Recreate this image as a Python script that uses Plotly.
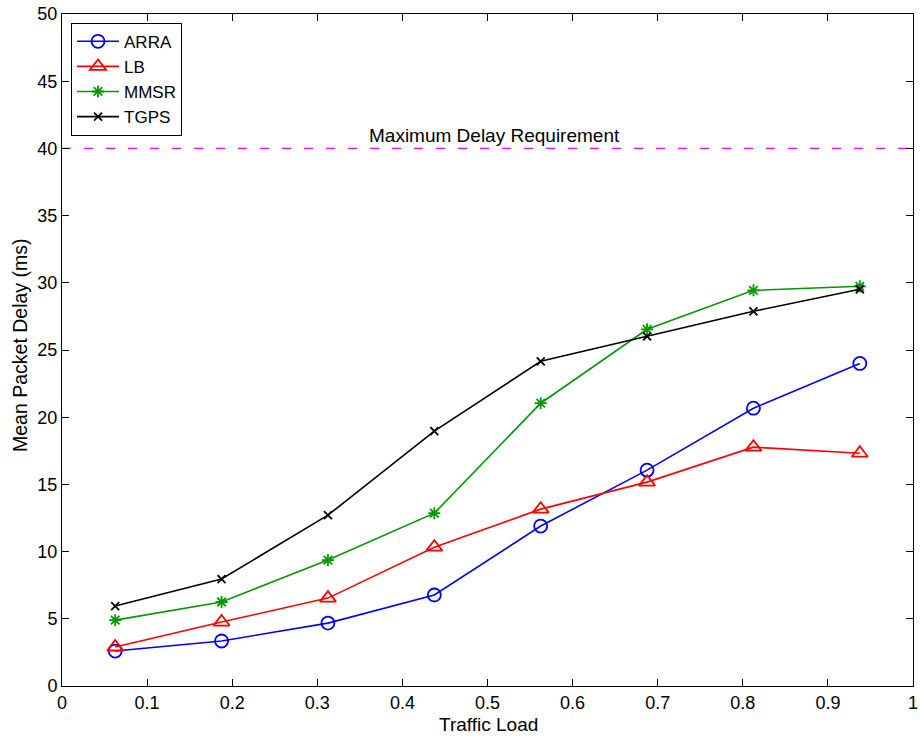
import plotly.graph_objects as go

traffic_load = [0.0625, 0.1875, 0.3125, 0.4375, 0.5625, 0.6875, 0.8125, 0.9375]
arra = [2.6, 3.35, 4.68, 6.77, 11.9, 16.06, 20.67, 24.0]
lb = [2.9, 4.76, 6.54, 10.33, 13.16, 15.17, 17.77, 17.32]
mmsr = [4.9, 6.25, 9.37, 12.86, 21.04, 26.54, 29.44, 29.74]
tgps = [5.95, 7.96, 12.71, 18.96, 24.16, 26.02, 27.88, 29.52]
max_delay = 40
x_ticks = [0, 0.1, 0.2, 0.3, 0.4, 0.5, 0.6, 0.7, 0.8, 0.9, 1]
x_tick_text = ["0", "0.1", "0.2", "0.3", "0.4", "0.5", "0.6", "0.7", "0.8", "0.9", "1"]
y_ticks = [0, 5, 10, 15, 20, 25, 30, 35, 40, 45, 50]

FONT = "Liberation Sans, Arial, Helvetica, sans-serif"

fig = go.Figure()
series = [
    ("ARRA", arra, "#0000ff", "circle-open", 13),
    ("LB", lb, "#ff0000", "triangle-up-open", 14),
    ("MMSR", mmsr, "#009900", "asterisk-open", 10),
    ("TGPS", tgps, "#000000", "x-thin-open", 8),
]
for name, ys, color, sym, size in series:
    fig.add_trace(go.Scatter(
        x=traffic_load, y=ys, name=name, mode="lines+markers",
        line=dict(color=color, width=1.6),
        marker=dict(symbol=sym, size=size, color=color, line=dict(color=color, width=1.8)),
    ))

fig.add_trace(go.Scatter(
    x=[0, 1], y=[max_delay, max_delay], mode="lines", showlegend=False,
    line=dict(color="#ff00ff", width=1.4, dash="9px,13px"), hoverinfo="skip",
))

fig.add_annotation(
    x=0.508, y=max_delay, xref="x", yref="y", text="Maximum Delay Requirement",
    showarrow=False, yanchor="bottom", yshift=0, font=dict(family=FONT, size=19, color="black"),
)
fig.add_annotation(
    x=0.5006, y=0, xref="paper", yref="paper", text="Traffic Load",
    showarrow=False, yanchor="middle", xanchor="center", yshift=-38,
    font=dict(family=FONT, size=19, color="black"),
)
fig.add_annotation(
    x=0, y=0.506, xref="paper", yref="paper", text="Mean Packet Delay (ms)",
    showarrow=False, yanchor="middle", xanchor="center", xshift=-42, textangle=-90,
    font=dict(family=FONT, size=19.5, color="black"),
)

axis_common = dict(
    showgrid=False, zeroline=False, showline=True, linecolor="black", linewidth=1,
    mirror="ticks", ticks="inside", ticklen=7, tickcolor="black", automargin=False,
    ticklabeloverflow="allow",
    tickfont=dict(family=FONT, size=18, color="black"),
)

fig.update_layout(
    width=920, height=740,
    margin=dict(l=62, r=7, t=14, b=54),
    paper_bgcolor="white", plot_bgcolor="white",
    font=dict(family=FONT, size=18, color="black"),
    xaxis=dict(range=[0, 1], tickvals=x_ticks, ticktext=x_tick_text, **axis_common),
    yaxis=dict(range=[0, 50], tickvals=y_ticks, **axis_common),
    legend=dict(x=0.0106, y=0.987, xanchor="left", yanchor="top",
                bordercolor="black", borderwidth=1, bgcolor="white",
                font=dict(family=FONT, size=17), tracegroupgap=0, itemwidth=42),
)

fig.write_html("out.html", config={"displayModeBar": False},
               post_script="document.body.style.margin='0';document.body.style.overflow='hidden';")
